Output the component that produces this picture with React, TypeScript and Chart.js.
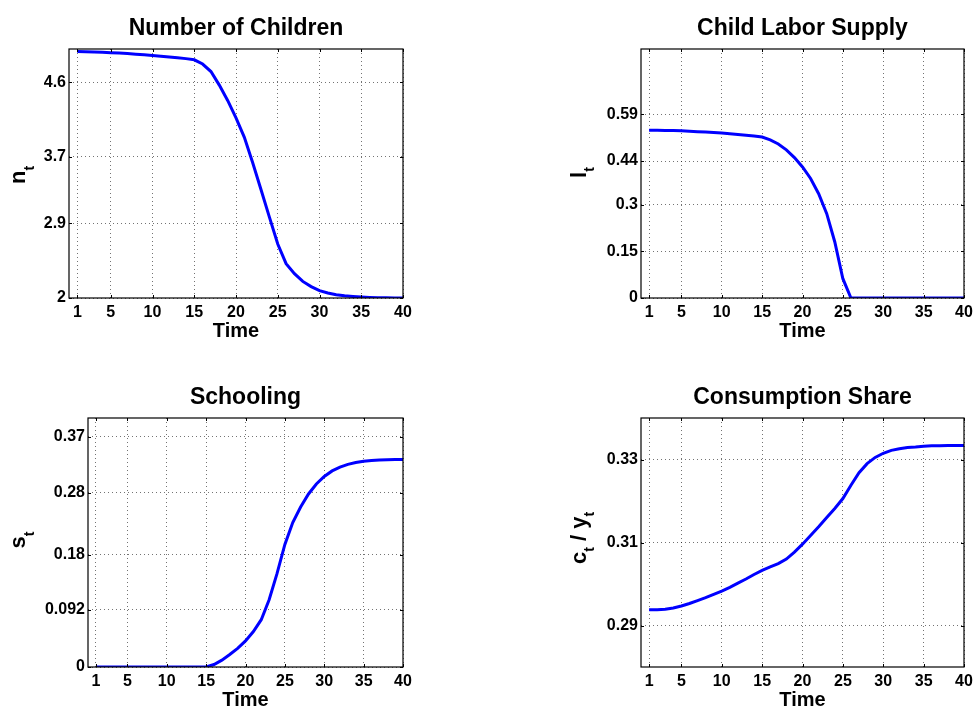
import React, { useEffect, useRef } from "react";
import { Chart, registerables } from "chart.js";

Chart.register(...registerables);

// ---------------- data ----------------
const time = [
  1, 2, 3, 4, 5, 6, 7, 8, 9, 10, 11, 12, 13, 14, 15, 16, 17, 18, 19, 20,
  21, 22, 23, 24, 25, 26, 27, 28, 29, 30, 31, 32, 33, 34, 35, 36, 37, 38, 39, 40,
];
const xTicks = [1, 5, 10, 15, 20, 25, 30, 35, 40];

const children = [
  4.970, 4.968, 4.965, 4.961, 4.956, 4.951, 4.945, 4.938, 4.931, 4.923,
  4.914, 4.905, 4.895, 4.884, 4.870, 4.819, 4.728, 4.565, 4.380, 4.170,
  3.935, 3.630, 3.305, 2.975, 2.650, 2.414, 2.294, 2.200, 2.137, 2.088,
  2.060, 2.040, 2.028, 2.019, 2.012, 2.007, 2.004, 2.002, 2.001, 2.000,
];
const childrenTicks = [2, 2.9, 3.7, 4.6];
const childrenTickLabels = ["2", "2.9", "3.7", "4.6"];

const labor = [
  0.539, 0.5388, 0.5384, 0.5378, 0.537, 0.5358, 0.5345, 0.5331, 0.5315, 0.5298,
  0.5278, 0.5256, 0.5232, 0.5205, 0.517, 0.508, 0.495, 0.476, 0.451, 0.421,
  0.384, 0.335, 0.271, 0.18, 0.062, 0, 0, 0, 0, 0,
  0, 0, 0, 0, 0, 0, 0, 0, 0, 0,
];
const laborTicks = [0, 0.15, 0.3, 0.44, 0.59];
const laborTickLabels = ["0", "0.15", "0.3", "0.44", "0.59"];

const schooling = [
  0, 0, 0, 0, 0, 0, 0, 0, 0, 0,
  0, 0, 0, 0, 0, 0.004, 0.011, 0.02, 0.03, 0.042,
  0.057, 0.076, 0.108, 0.150, 0.197, 0.232, 0.257, 0.278, 0.294, 0.306,
  0.315, 0.321, 0.3255, 0.3285, 0.3305, 0.3318, 0.3326, 0.3331, 0.3334, 0.3335,
];
const schoolingTicks = [0, 0.092, 0.18, 0.28, 0.37];
const schoolingTickLabels = ["0", "0.092", "0.18", "0.28", "0.37"];

const consumption = [
  0.2938, 0.2938, 0.2939, 0.2942, 0.2947, 0.2953, 0.296, 0.2967, 0.2975, 0.2983,
  0.2992, 0.3002, 0.3012, 0.3023, 0.3033, 0.3041, 0.3049, 0.306, 0.3077, 0.3096,
  0.3117, 0.3138, 0.316, 0.3182, 0.3206, 0.3238, 0.3268, 0.329, 0.3305, 0.3315,
  0.3322, 0.3326, 0.3329, 0.333, 0.3332, 0.3333, 0.3333, 0.3334, 0.3334, 0.3334,
];
const consumptionTicks = [0.29, 0.31, 0.33];
const consumptionTickLabels = ["0.29", "0.31", "0.33"];

// ---------------- layout ----------------
type Seg = { text: string; sub: boolean };
type Panel = {
  title: string;
  ylabel: Seg[];
  values: number[];
  yMin: number;
  yMax: number;
  yTicks: number[];
  yTickLabels: string[];
  L: number; T: number; W: number; H: number;
  cl: number; cr: number; ct: number; cb: number;
  ylx: number; yly: number;
};

const panels: Panel[] = [
  {
    title: "Number of Children",
    ylabel: [{ text: "n", sub: false }, { text: "t", sub: true }],
    values: children, yMin: 2, yMax: 5, yTicks: childrenTicks, yTickLabels: childrenTickLabels,
    L: 0, T: 0, W: 486, H: 353, cl: 69, cr: 403, ct: 49, cb: 298, ylx: 25, yly: 175,
  },
  {
    title: "Child Labor Supply",
    ylabel: [{ text: "l", sub: false }, { text: "t", sub: true }],
    values: labor, yMin: 0, yMax: 0.8, yTicks: laborTicks, yTickLabels: laborTickLabels,
    L: 486, T: 0, W: 500, H: 353, cl: 641, cr: 964, ct: 49, cb: 298, ylx: 585.5, yly: 172.5,
  },
  {
    title: "Schooling",
    ylabel: [{ text: "s", sub: false }, { text: "t", sub: true }],
    values: schooling, yMin: 0, yMax: 0.4, yTicks: schoolingTicks, yTickLabels: schoolingTickLabels,
    L: 0, T: 353, W: 486, H: 370, cl: 88, cr: 403, ct: 418, cb: 667, ylx: 25, yly: 540,
  },
  {
    title: "Consumption Share",
    ylabel: [
      { text: "c", sub: false },
      { text: "t", sub: true },
      { text: " / y", sub: false },
      { text: "t", sub: true },
    ],
    values: consumption, yMin: 0.28, yMax: 0.34, yTicks: consumptionTicks, yTickLabels: consumptionTickLabels,
    L: 486, T: 353, W: 500, H: 370, cl: 641, cr: 964, ct: 418, cb: 667, ylx: 585.5, yly: 538,
  },
];

const SANS = '"Liberation Sans", Arial, Helvetica, sans-serif';
const TICK_FONT = { family: SANS, size: 16, weight: "bold" as const };
const GRID_COLOR = "rgba(0,0,0,0.55)";

function decorPlugin(p: Panel) {
  return {
    id: "decor",
    afterDraw(chart: any) {
      const ctx = chart.ctx as CanvasRenderingContext2D;
      const a = chart.chartArea;
      const xs = chart.scales.x;
      const ys = chart.scales.y;
      ctx.save();
      // axes box
      ctx.strokeStyle = "#000";
      ctx.lineWidth = 1.2;
      ctx.strokeRect(a.left, a.top, a.right - a.left, a.bottom - a.top);
      // inner tick marks
      ctx.lineWidth = 1;
      ctx.beginPath();
      xs.ticks.forEach((t: any) => {
        const px = Math.round(xs.getPixelForValue(t.value)) + 0.5;
        ctx.moveTo(px, a.bottom);
        ctx.lineTo(px, a.bottom - 3);
        ctx.moveTo(px, a.top);
        ctx.lineTo(px, a.top + 3);
      });
      ys.ticks.forEach((t: any) => {
        const py = Math.round(ys.getPixelForValue(t.value)) + 0.5;
        ctx.moveTo(a.left, py);
        ctx.lineTo(a.left + 3, py);
        ctx.moveTo(a.right, py);
        ctx.lineTo(a.right - 3, py);
      });
      ctx.stroke();

      ctx.fillStyle = "#000";
      const cx = (a.left + a.right) / 2;
      // title
      ctx.font = `bold 23px ${SANS}`;
      ctx.textAlign = "center";
      ctx.textBaseline = "alphabetic";
      ctx.fillText(p.title, cx, a.top - 14.5);
      // x label
      ctx.font = `bold 20px ${SANS}`;
      ctx.fillText("Time", cx, a.bottom + 39);
      // y label (rotated, with subscripts)
      const mainFont = `bold 22px ${SANS}`;
      const subFont = `bold 14px ${SANS}`;
      let total = 0;
      const widths = p.ylabel.map((s) => {
        ctx.font = s.sub ? subFont : mainFont;
        const w = ctx.measureText(s.text).width;
        total += w;
        return w;
      });
      ctx.translate(p.ylx - p.L, p.yly - p.T);
      ctx.rotate(-Math.PI / 2);
      ctx.textAlign = "left";
      let x = -total / 2;
      p.ylabel.forEach((s, i) => {
        ctx.font = s.sub ? subFont : mainFont;
        ctx.fillText(s.text, x, s.sub ? 8.5 : 0);
        x += widths[i];
      });
      ctx.restore();
    },
  };
}

function PanelChart({ p }: { p: Panel }) {
  const ref = useRef<HTMLCanvasElement | null>(null);
  useEffect(() => {
    if (!ref.current) return;
    const chart = new Chart(ref.current, {
      type: "line",
      data: {
        datasets: [
          {
            data: time.map((t, i) => ({ x: t, y: p.values[i] })),
            borderColor: "#0000ff",
            backgroundColor: "#0000ff",
            borderWidth: 3,
            pointRadius: 0,
            tension: 0,
            fill: false,
          },
        ],
      },
      options: {
        responsive: false,
        maintainAspectRatio: false,
        animation: false,
        devicePixelRatio: 1,
        layout: {
          padding: {
            left: 0,
            top: p.ct - p.T,
            right: p.L + p.W - p.cr,
            bottom: p.T + p.H - p.cb - 30,
          },
        },
        plugins: {
          legend: { display: false },
          tooltip: { enabled: false },
          title: { display: false },
        },
        scales: {
          x: {
            type: "linear",
            min: 0,
            max: 40,
            afterBuildTicks: (s: any) => {
              s.ticks = xTicks.map((v) => ({ value: v }));
            },
            afterFit: (s: any) => {
              s.height = 30;
            },
            grid: { color: GRID_COLOR, lineWidth: 1, drawTicks: false },
            border: { display: false, dash: [1, 3] },
            ticks: {
              autoSkip: false,
              maxRotation: 0,
              padding: 5,
              color: "#000",
              font: TICK_FONT,
              callback: (v: any) => String(v),
            },
          },
          y: {
            type: "linear",
            min: p.yMin,
            max: p.yMax,
            afterBuildTicks: (s: any) => {
              s.ticks = p.yTicks.map((v) => ({ value: v }));
            },
            afterFit: (s: any) => {
              s.width = p.cl - p.L;
            },
            grid: { color: GRID_COLOR, lineWidth: 1, drawTicks: false },
            border: { display: false, dash: [1, 3] },
            ticks: {
              padding: 3,
              color: "#000",
              font: TICK_FONT,
              callback: (_v: any, i: number) => p.yTickLabels[i],
            },
          },
        },
      } as any,
      plugins: [decorPlugin(p)],
    });
    return () => chart.destroy();
  }, [p]);
  return (
    <canvas
      ref={ref}
      width={p.W}
      height={p.H}
      style={{ position: "absolute", left: p.L, top: p.T, width: p.W, height: p.H }}
    />
  );
}

export default function App() {
  return (
    <div
      style={{
        position: "absolute",
        left: 0,
        top: 0,
        width: 973,
        height: 706,
        overflow: "hidden",
        background: "#fff",
      }}
    >
      {panels.map((p, i) => (
        <PanelChart key={i} p={p} />
      ))}
    </div>
  );
}
